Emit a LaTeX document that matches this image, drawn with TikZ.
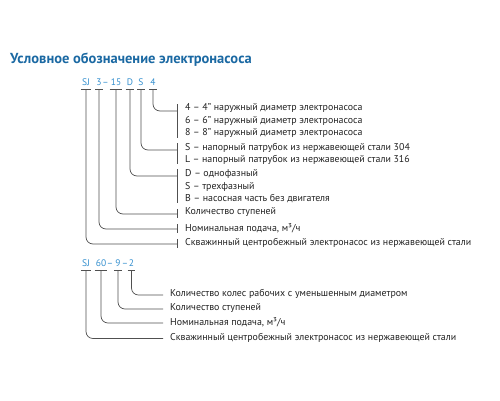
\documentclass[tikz,border=0pt]{standalone}
\usepackage{fontspec}
\setmainfont{PT Sans}
\definecolor{titleblue}{HTML}{1B69A3}
\definecolor{codeblue}{HTML}{3590CF}
\definecolor{txt}{HTML}{222222}
\definecolor{ln}{HTML}{505050}
\begin{document}
\begin{tikzpicture}[x=1pt,y=-1pt,
  code/.style={inner sep=0pt,anchor=base,text=codeblue,font=\fontsize{9.5}{10}\selectfont},
  lbl/.style={inner sep=0pt,anchor=west,text=txt,font=\fontsize{9.9}{11}\selectfont},
  conn/.style={draw=ln,line width=0.7pt,rounded corners=7pt},
  bar/.style={draw=ln,line width=0.7pt}]
\useasboundingbox (0,0) rectangle (500,400);
\fill[white] (0,0) rectangle (500,400);
\node[inner sep=0pt,anchor=west,text=titleblue,font=\fontsize{14.5}{16}\selectfont\bfseries] (title) at (10,60) {Условное обозначение электронасоса};
% first code
\node[code] (sj1) at (86,85.5) {SJ};
\node[code] (c3) at (99,85.5) {3};
\node[code] (d1) at (105.5,85.5) {–};
\node[code] (c15) at (116,85.5) {15};
\node[code] (cD) at (130,85.5) {D};
\node[code] (cS) at (141,85.5) {S};
\node[code] (c4) at (153,85.5) {4};
\foreach \n in {sj1,c3,c15,cD,cS,c4}{
  \draw[bar] ([xshift=-1pt,yshift=-3.5pt]\n.base west) -- ([xshift=1pt,yshift=-3.5pt]\n.base east);
}
% labels first
\node[lbl] (t4) at (185,108) {4 – 4” наружный диаметр электронасоса};
\node[lbl] (t6) at (185,121) {6 – 6” наружный диаметр электронасоса};
\node[lbl] (t8) at (185,133) {8 – 8” наружный диаметр электронасоса};
\node[lbl] (tS) at (185,148) {S – напорный патрубок из нержавеющей стали 304};
\node[lbl] (tL) at (185,160) {L – напорный патрубок из нержавеющей стали 316};
\node[lbl] (tD) at (185,174) {D – однофазный};
\node[lbl] (tS3) at (185,187) {S – трехфазный};
\node[lbl] (tB) at (185,199) {B – насосная часть без двигателя};
\node[lbl] (tK) at (185,212) {Количество ступеней};
\node[lbl] (tN) at (185,228) {Номинальная подача, м³/ч};
\node[lbl] (tW) at (185,243) {Скважинный центробежный электронасос из нержавеющей стали};
\coordinate (b4) at (177,111);
\coordinate (bS) at (177,150);
\coordinate (bD) at (177,176);
\coordinate (bK) at (177,214);
\coordinate (bN) at (177,229);
\coordinate (bW) at (177,244);
\draw[conn] ([yshift=-3.5pt]c4.base) |- (b4);
\draw[conn] ([yshift=-3.5pt]cS.base) |- (bS);
\draw[conn] ([yshift=-3.5pt]cD.base) |- (bD);
\draw[conn] ([yshift=-3.5pt]c15.base) |- (bK);
\draw[conn] ([yshift=-3.5pt]c3.base) |- (bN);
\draw[conn] ([yshift=-3.5pt]sj1.base) |- (bW);
\draw[bar] (177,104) -- (177,138);
\draw[bar] (177,143) -- (177,164);
\draw[bar] (177,169) -- (177,203);
\draw[bar] (177,209) -- (177,218);
\draw[bar] (177,224) -- (177,233);
\draw[bar] (177,239) -- (177,248);
% second code
\node[code] (sj2) at (86,266.5) {SJ};
\node[code] (c60) at (101,266.5) {60};
\node[code] (d2) at (110,266.5) {–};
\node[code] (c9) at (118,266.5) {9};
\node[code] (d3) at (125,266.5) {–};
\node[code] (c2) at (131.5,266.5) {2};
\foreach \n in {sj2,c60,c9,c2}{
  \draw[bar] ([xshift=-1pt,yshift=-3.5pt]\n.base west) -- ([xshift=1pt,yshift=-3.5pt]\n.base east);
}
\node[lbl] (u1) at (170,294) {Количество колес рабочих с уменьшенным диаметром};
\node[lbl] (u2) at (170,308) {Количество ступеней};
\node[lbl] (u3) at (170,322) {Номинальная подача, м³/ч};
\node[lbl] (u4) at (170,338) {Скважинный центробежный электронасос из нержавеющей стали};
\coordinate (e1) at (163,295);
\coordinate (e2) at (163,309);
\coordinate (e3) at (163,323);
\coordinate (e4) at (163,338.5);
\draw[conn] ([yshift=-3.5pt]c2.base) |- (e1);
\draw[conn] ([yshift=-3.5pt]c9.base) |- (e2);
\draw[conn] ([yshift=-3.5pt]c60.base) |- (e3);
\draw[conn] ([yshift=-3.5pt]sj2.base) |- (e4);
\end{tikzpicture}
\end{document}
